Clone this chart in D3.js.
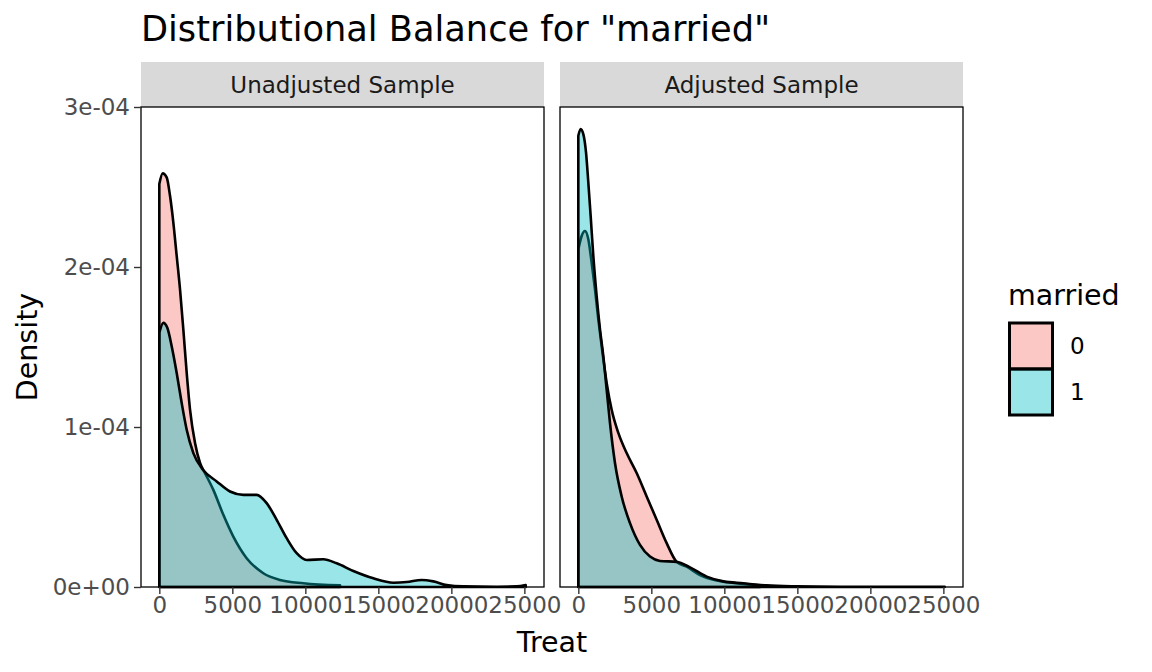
<!DOCTYPE html>
<html>
<head>
<meta charset="utf-8">
<script src="https://cdn.jsdelivr.net/npm/d3@7"></script>
<style>
  body { margin: 0; background: #fff; }
  text { font-family: "DejaVu Sans", sans-serif; }
</style>
</head>
<body>
<script>
// data (density in units of 1e-4)
var panels = ["Unadjusted Sample", "Adjusted Sample"];
var groups = ["0", "1"];
var groupColors = ["#F8766D", "#00BFC4"];

var unadjX0 = [0, 230, 504, 733, 960, 1190, 1418, 1644, 1875, 2103, 2445, 2788, 3130, 3699, 4384, 5068, 5981, 7123, 8265, 9862, 12377];
var unadjY0 = [2.518, 2.585, 2.56, 2.445, 2.278, 2.069, 1.86, 1.61, 1.338, 1.108, 0.90, 0.775, 0.712, 0.607, 0.451, 0.315, 0.18, 0.086, 0.044, 0.023, 0.01];

var unadjX1 = [0, 274, 548, 847, 1190, 1532, 1875, 2331, 3016, 3929, 4842, 5755, 6668, 7352, 8037, 8722, 9406, 10091, 11233, 12148, 13290, 14660, 16030, 16943, 17970, 18767, 19680, 20822, 23105, 24475, 25090];
var unadjY1 = [1.589, 1.651, 1.62, 1.505, 1.338, 1.15, 0.983, 0.837, 0.73, 0.66, 0.597, 0.576, 0.576, 0.524, 0.42, 0.305, 0.211, 0.169, 0.173, 0.148, 0.10, 0.054, 0.027, 0.031, 0.044, 0.035, 0.0125, 0.004, 0.002, 0.004, 0.012];

var adjX0 = [0, 228, 457, 685, 913, 1142, 1370, 1598, 1941, 2283, 2740, 3310, 3995, 4680, 5365, 6050, 6736, 7421, 8334, 9476, 10845, 12445];
var adjY0 = [2.11, 2.194, 2.225, 2.173, 2.027, 1.86, 1.672, 1.505, 1.276, 1.108, 0.963, 0.837, 0.712, 0.566, 0.42, 0.274, 0.157, 0.127, 0.075, 0.04, 0.023, 0.01];

var adjX1 = [0, 160, 342, 527, 685, 845, 1027, 1256, 1484, 1712, 1941, 2169, 2511, 2968, 3539, 4224, 4909, 5594, 6736, 7649, 8791, 9932, 11301, 12900, 14950, 18000, 25090];
var adjY1 = [2.82, 2.862, 2.83, 2.716, 2.528, 2.319, 2.069, 1.818, 1.61, 1.443, 1.234, 1.025, 0.775, 0.566, 0.399, 0.263, 0.19, 0.163, 0.157, 0.123, 0.065, 0.035, 0.023, 0.01, 0.004, 0.001, 0.0005];

var xTicks = [0, 5000, 10000, 15000, 20000, 25000];
var yTicks = [0, 1, 2, 3];
var yTickLabels = ["0e+00", "1e-04", "2e-04", "3e-04"];

var series = [
  [{x: unadjX0, y: unadjY0}, {x: unadjX1, y: unadjY1}],
  [{x: adjX0, y: adjY0}, {x: adjX1, y: adjY1}]
];

// layout
var W = 1152, H = 672;
var panelLeft = [141, 560], panelW = 403;
var panelTop = 107, panelBottom = 587;
var stripTop = 62;

var svg = d3.select("body").append("svg")
  .attr("width", W)
  .attr("height", H);

svg.append("rect").attr("width", W).attr("height", H).attr("fill", "#fff");

var y = d3.scaleLinear().domain([0, 3]).range([panelBottom, panelTop]);

// title
svg.append("text")
  .attr("x", 141).attr("y", 41)
  .attr("font-size", 35.2)
  .attr("fill", "#000")
  .text('Distributional Balance for "married"');

panels.forEach(function(name, p){
  var x0 = panelLeft[p];
  var x = d3.scaleLinear().domain([-1254.5, 26344.5]).range([x0, x0 + panelW]);

  // strip
  svg.append("rect")
    .attr("x", x0).attr("y", stripTop)
    .attr("width", panelW).attr("height", panelTop - stripTop)
    .attr("fill", "#D9D9D9");
  svg.append("text")
    .attr("x", x0 + panelW / 2).attr("y", (stripTop + panelTop) / 2)
    .attr("dy", "0.36em")
    .attr("text-anchor", "middle")
    .attr("font-size", 23)
    .attr("fill", "#1A1A1A")
    .text(name);

  // panel bg
  svg.append("rect")
    .attr("x", x0).attr("y", panelTop)
    .attr("width", panelW).attr("height", panelBottom - panelTop)
    .attr("fill", "#fff");

  var area = d3.area()
    .x(function(d){ return x(d[0]); })
    .y0(y(0))
    .y1(function(d){ return y(d[1]); })
    .curve(d3.curveMonotoneX);

  series[p].forEach(function(s, g){
    var pts = s.x.map(function(v, i){ return [v, s.y[i]]; });
    svg.append("path")
      .datum(pts)
      .attr("d", area)
      .attr("fill", groupColors[g])
      .attr("fill-opacity", 0.4)
      .attr("stroke", "#000")
      .attr("stroke-width", 2.6)
      .attr("stroke-linejoin", "round");
  });

  // border
  svg.append("rect")
    .attr("x", x0).attr("y", panelTop)
    .attr("width", panelW).attr("height", panelBottom - panelTop)
    .attr("fill", "none")
    .attr("stroke", "#000")
    .attr("stroke-width", 1.3);

  // x axis
  var xAxis = svg.append("g")
    .attr("transform", "translate(0," + panelBottom + ")")
    .call(d3.axisBottom(x).tickValues(xTicks).tickFormat(d3.format("d")).tickSize(7).tickPadding(3));
  xAxis.select(".domain").remove();
  xAxis.selectAll("line").attr("stroke", "#333").attr("stroke-width", 1.4);
  xAxis.selectAll("text").attr("font-size", 23).attr("fill", "#4D4D4D")
    .attr("font-family", "DejaVu Sans");
});

// y axis
var yAxis = svg.append("g")
  .attr("transform", "translate(" + panelLeft[0] + ",0)")
  .call(d3.axisLeft(y).tickValues(yTicks)
    .tickFormat(function(d, i){ return yTickLabels[i]; })
    .tickSize(7).tickPadding(4));
yAxis.select(".domain").remove();
yAxis.selectAll("line").attr("stroke", "#333").attr("stroke-width", 1.4);
yAxis.selectAll("text").attr("font-size", 23).attr("fill", "#4D4D4D")
  .attr("font-family", "DejaVu Sans");

// axis titles
svg.append("text")
  .attr("x", (panelLeft[0] + panelLeft[1] + panelW) / 2).attr("y", 652)
  .attr("text-anchor", "middle")
  .attr("font-size", 28.5)
  .text("Treat");
svg.append("text")
  .attr("transform", "translate(37," + (panelTop + panelBottom) / 2 + ") rotate(-90)")
  .attr("text-anchor", "middle")
  .attr("font-size", 28.5)
  .text("Density");

// legend
var lg = svg.append("g").attr("transform", "translate(1008,0)");
lg.append("text").attr("x", 0).attr("y", 305).attr("font-size", 28.5).text("married");
groups.forEach(function(g, i){
  var ky = 323 + i * 46;
  lg.append("rect")
    .attr("x", 1.5).attr("y", ky)
    .attr("width", 43).attr("height", 46)
    .attr("fill", groupColors[i])
    .attr("fill-opacity", 0.4)
    .attr("stroke", "#000")
    .attr("stroke-width", 3);
  lg.append("text")
    .attr("x", 62).attr("y", ky + 23)
    .attr("dy", "0.36em")
    .attr("font-size", 23)
    .text(g);
});
</script>
</body>
</html>
